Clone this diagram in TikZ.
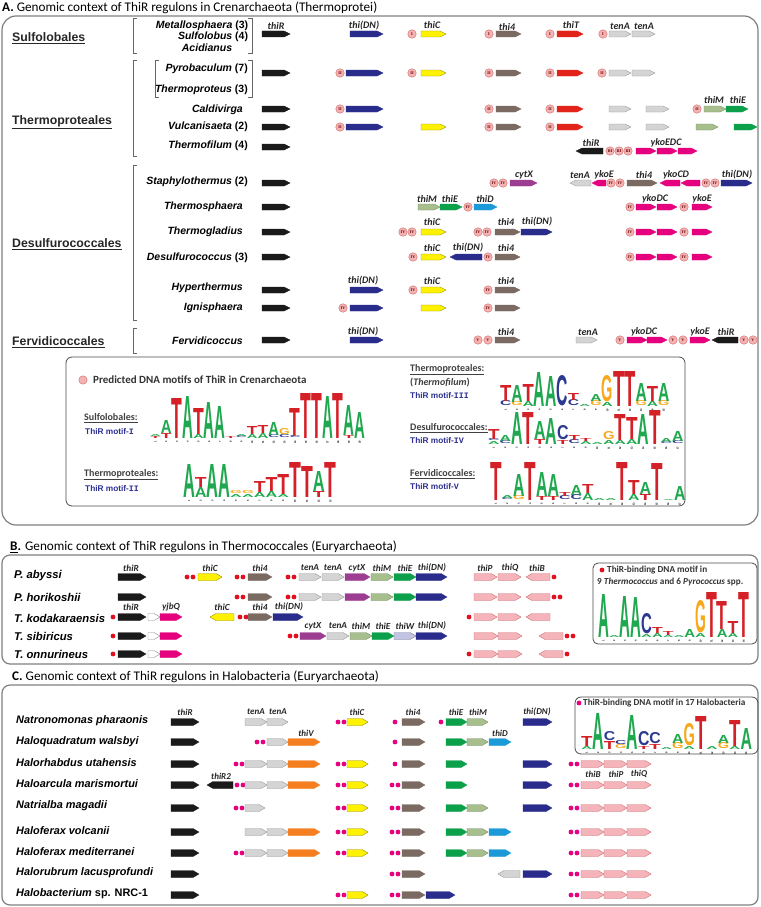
\documentclass[tikz,border=0pt]{standalone}
\usepackage{fontspec}
\usepackage{graphicx}
\setmainfont{Carlito}
\newfontfamily\arialf{Liberation Sans}
\newfontfamily\monof{Liberation Mono}
\newfontfamily\serf{Liberation Serif}
\definecolor{cBlack}{HTML}{1A1A1A}
\definecolor{cBlue}{HTML}{2A2C8C}
\definecolor{cYellow}{HTML}{FFF200}
\definecolor{cBrown}{HTML}{7A6A62}
\definecolor{cRed}{HTML}{E2231A}
\definecolor{cGray}{HTML}{D4D4D4}
\definecolor{cLGreen}{HTML}{A6BF8C}
\definecolor{cGreen}{HTML}{0DA04B}
\definecolor{cMag}{HTML}{E5007D}
\definecolor{cPurple}{HTML}{9D3D91}
\definecolor{cLBlue}{HTML}{1B9AD7}
\definecolor{cOrange}{HTML}{F47E20}
\definecolor{cPink}{HTML}{F5B4BA}
\definecolor{cLav}{HTML}{C3C3E3}
\definecolor{cCirc}{HTML}{F3B3B3}
\definecolor{cDotR}{HTML}{E0101E}
\definecolor{cDotM}{HTML}{E6007E}
\definecolor{lgAc}{HTML}{1FA84F}
\definecolor{lgTc}{HTML}{D42027}
\definecolor{lgCc}{HTML}{2B3990}
\definecolor{lgGc}{HTML}{F7A81B}
\definecolor{motifBlue}{HTML}{2E3192}
\newcommand\lgA{\textcolor{lgAc}{\arialf\bfseries A}}
\newcommand\lgT{\textcolor{lgTc}{\arialf\bfseries T}}
\newcommand\lgC{\textcolor{lgCc}{\arialf\bfseries C}}
\newcommand\lgG{\textcolor{lgGc}{\arialf\bfseries G}}
\def\gh{3}\def\gt{6}
\newcommand\gR[4]{\draw[#4] (#1,#3-\gh) -- ({#2-\gt},#3-\gh) -- (#2,#3) -- ({#2-\gt},#3+\gh) -- (#1,#3+\gh) -- cycle;}
\newcommand\gL[4]{\draw[#4] (#2,#3-\gh) -- ({#1+\gt},#3-\gh) -- (#1,#3) -- ({#1+\gt},#3+\gh) -- (#2,#3+\gh) -- cycle;}
\newcommand\glab[3]{\node[glab] at (#1,#2) {#3};}
\newcommand\mcirc[3]{\node[mc] at (#1,#2) {#3};}
\newcommand\dotr[2]{\fill[cDotR] (#1,#2) circle (2.4pt);}
\newcommand\dotm[2]{\fill[cDotM] (#1,#2) circle (2.4pt);}
\newcommand\dlogo[5]{%
  \foreach \cc/\LL/\bb/\hh in {#5} {
    \node[lgn] at ({#1+(\cc-1)*#3},{#2-\bb}) {\resizebox{#3pt}{\hh pt}{\csname lg\LL\endcsname}};
  }
  \foreach \ii in {1,...,#4} \node[lgnum] at ({#1+(\ii-0.5)*#3},{#2+4}) {\ii};
}
\begin{document}
\begin{tikzpicture}[x=1pt,y=-1pt,
  gk/.style={fill=cBlack,draw=cBlack,line width=0.3pt},
  gb/.style={fill=cBlue,draw=cBlue,line width=0.3pt},
  gy/.style={fill=cYellow,draw=black!40!cYellow,line width=0.4pt},
  gbr/.style={fill=cBrown,draw=cBrown,line width=0.3pt},
  gr/.style={fill=cRed,draw=cRed,line width=0.3pt},
  gg/.style={fill=cGray,draw=black!40,line width=0.4pt},
  glg/.style={fill=cLGreen,draw=black!25!cLGreen,line width=0.4pt},
  ggr/.style={fill=cGreen,draw=cGreen,line width=0.3pt},
  gm/.style={fill=cMag,draw=cMag,line width=0.3pt},
  gp/.style={fill=cPurple,draw=cPurple,line width=0.3pt},
  glb/.style={fill=cLBlue,draw=cLBlue,line width=0.3pt},
  go/.style={fill=cOrange,draw=cOrange,line width=0.3pt},
  gpk/.style={fill=cPink,draw=black!20!cPink!80!red,line width=0.4pt},
  glv/.style={fill=cLav,draw=black!35!cLav,line width=0.4pt},
  gw/.style={fill=white,draw=black!45,line width=0.4pt},
  glab/.style={font=\fontsize{10}{10}\selectfont\bfseries\itshape,text=black!85,inner sep=0pt},
  glabB/.style={font=\fontsize{9.3}{10}\selectfont\bfseries\itshape,text=black!85,inner sep=0pt},
  glabC/.style={font=\fontsize{9}{10}\selectfont\bfseries\itshape,text=black!85,inner sep=0pt},
  mc/.style={circle,fill=cCirc,draw=black!20!cCirc!70!red,line width=0.4pt,minimum size=8.5pt,inner sep=0pt,font=\serf\fontsize{4.2}{4}\selectfont\bfseries,text=black!60!red},
  lgn/.style={anchor=south west,inner sep=0pt,outer sep=0pt},
  lgnum/.style={font=\arialf\fontsize{2.6}{3}\selectfont\bfseries,rotate=90,inner sep=0pt},
  spA/.style={font=\arialf\bfseries\fontsize{10.5}{12}\selectfont,inner sep=0pt},
  spB/.style={font=\arialf\bfseries\itshape\fontsize{11.3}{13}\selectfont,inner sep=0pt,anchor=west},
  spC/.style={font=\arialf\bfseries\itshape\fontsize{10.9}{12}\selectfont,inner sep=0pt,anchor=west},
  ord/.style={font=\arialf\bfseries\fontsize{12.3}{14}\selectfont,text=black!85,inner sep=0pt,anchor=west},
  ttl/.style={font=\fontsize{13.2}{15}\selectfont,inner sep=0pt,anchor=west},
  brk/.style={draw=black!60,line width=0.6pt},
  obox/.style={draw=black!50,line width=1.2pt},
  mbox/.style={draw=black!70,line width=0.8pt},
  mlab/.style={font=\bfseries\fontsize{10}{11}\selectfont,text=black!75,inner sep=0pt,anchor=west},
  mname/.style={font=\arialf\bfseries\fontsize{8.3}{9}\selectfont,text=motifBlue,inner sep=0pt,anchor=west},
  mtitle/.style={font=\bfseries\fontsize{9.2}{10}\selectfont,text=black!80,inner sep=0pt,anchor=west}
]
\useasboundingbox (0,0) rectangle (760,907);
\fill[white] (0,0) rectangle (760,907);

%%%%%%%%%%%%%%%% Section A
\node[ttl] (tA) at (2,8) {\textbf{A.} Genomic context of ThiR regulons in Crenarchaeota (Thermoprotei)};
\draw[obox,rounded corners=14pt] (2,16) rectangle (758,525);

\node[ord] (oS) at (12,38) {\underline{Sulfolobales}};
\node[ord] (oT) at (12,122) {\underline{Thermoproteales}};
\node[ord] (oD) at (12,244) {\underline{Desulfurococcales}};
\node[ord] (oF) at (12,342) {\underline{Fervidicoccales}};

% brackets
\draw[brk] (137,18) -- (133,18) -- (133,53) -- (137,53);
\draw[brk] (248,18) -- (252,18) -- (252,53) -- (248,53);
\draw[brk] (137,60) -- (133,60) -- (133,156) -- (137,156);
\draw[brk] (159,60) -- (155,60) -- (155,97) -- (159,97);
\draw[brk] (248,60) -- (252,60) -- (252,97) -- (248,97);
\draw[brk] (137,165) -- (133,165) -- (133,320) -- (137,320);
\draw[brk] (137,328) -- (133,328) -- (133,353) -- (137,353);

% species
\node[spA] at (202,26) {{\itshape Metallosphaera} (3)};
\node[spA] at (213,37) {{\itshape Sulfolobus} (4)};
\node[spA] at (207,48) {{\itshape Acidianus}};
\node[spA,anchor=east] at (248,69) {{\itshape Pyrobaculum} (7)};
\node[spA,anchor=east] at (248,90) {{\itshape Thermoproteus} (3)};
\node[spA,anchor=east] at (243,110) {{\itshape Caldivirga}};
\node[spA,anchor=east] at (248,127) {{\itshape Vulcanisaeta} (2)};
\node[spA,anchor=east] at (248,146) {{\itshape Thermofilum} (4)};
\node[spA,anchor=east] at (248,182) {{\itshape Staphylothermus} (2)};
\node[spA,anchor=east] at (243,207) {{\itshape Thermosphaera}};
\node[spA,anchor=east] at (243,232) {{\itshape Thermogladius}};
\node[spA,anchor=east] at (248,258) {{\itshape Desulfurococcus} (3)};
\node[spA,anchor=east] at (243,288) {{\itshape Hyperthermus}};
\node[spA,anchor=east] at (243,308) {{\itshape Ignisphaera}};
\node[spA,anchor=east] at (243,341) {{\itshape Fervidicoccus}};

% thiR column
\foreach \yy in {34,73,109,127,147,183,207,232,257,290,308,340} {\gR{262}{290}{\yy}{gk}}
\glab{276}{26}{thiR}

% row 1
\gR{350}{383}{34}{gb} \glab{364}{26}{thi(DN)}
\mcirc{412}{34}{I} \gR{421}{446}{34}{gy} \glab{432}{25}{thiC}
\mcirc{489}{34}{I} \gR{496}{521}{34}{gbr} \glab{507}{27}{thi4}
\mcirc{550}{34}{I} \gR{557}{583}{34}{gr} \glab{571}{25}{thiT}
\mcirc{603}{34}{I} \gR{609}{631}{34}{gg} \gR{632}{655}{34}{gg} \glab{620}{26}{tenA} \glab{644}{26}{tenA}

% Pyrobaculum
\mcirc{340}{73}{II} \gR{346}{383}{73}{gb}
\mcirc{412}{73}{II} \gR{421}{446}{73}{gy}
\mcirc{489}{73}{II} \gR{496}{521}{73}{gbr}
\mcirc{550}{73}{II} \gR{557}{583}{73}{gr}
\mcirc{602}{73}{II} \gR{609}{631}{73}{gg} \gR{632}{655}{73}{gg}

% Caldivirga
\mcirc{340}{109}{II} \gR{346}{383}{109}{gb}
\mcirc{489}{109}{II} \gR{496}{521}{109}{gbr}
\mcirc{550}{109}{II} \gR{557}{583}{109}{gr}
\gR{609}{631}{109}{gg} \gR{646}{669}{109}{gg}
\mcirc{697}{109}{II} \gR{704}{726}{109}{glg} \gR{726}{748}{109}{ggr}
\glab{714}{100}{thiM} \glab{738}{100}{thiE}

% Vulcanisaeta
\mcirc{340}{127}{II} \gR{346}{383}{127}{gb}
\gR{421}{446}{127}{gy}
\mcirc{489}{127}{II} \gR{496}{521}{127}{gbr}
\mcirc{550}{127}{II} \gR{557}{583}{127}{gr}
\gR{609}{631}{127}{gg} \gR{646}{669}{127}{gg}
\gR{696}{718}{127}{glg} \gR{734}{757}{127}{ggr}

% Thermofilum
\gL{576}{603}{151}{gk} \glab{591}{143}{thiR}
\mcirc{610}{151}{III} \mcirc{619}{151}{III} \mcirc{628}{151}{III}
\gR{636}{656}{151}{gm} \gR{657}{677}{151}{gm} \gR{678}{697}{151}{gm}
\glab{666}{143}{ykoEDC}

% Staphylothermus
\mcirc{494}{183}{IV} \mcirc{503}{183}{IV} \gR{510}{537}{183}{gp} \glab{524}{175}{cytX}
\gL{570}{591}{183}{gg} \glab{580}{175}{tenA}
\gL{592}{606}{183}{gm} \glab{604}{175}{ykoE}
\mcirc{611}{183}{IV} \mcirc{620}{183}{IV}
\gR{627}{657}{183}{gbr} \glab{644}{175}{thi4}
\gL{660}{680}{183}{gm} \gL{681}{700}{183}{gm} \glab{676}{175}{ykoCD}
\mcirc{706}{183}{IV} \mcirc{715}{183}{IV}
\gR{721}{752}{183}{gb} \glab{737}{175}{thi(DN)}

% Thermosphaera
\gR{418}{440}{207}{glg} \gR{440}{462}{207}{ggr} \mcirc{468}{207}{IV} \gR{474}{497}{207}{glb}
\glab{427}{199}{thiM} \glab{450}{199}{thiE} \glab{485}{199}{thiD}
\mcirc{630}{207}{IV} \gR{636}{656}{207}{gm} \gR{657}{677}{207}{gm}
\mcirc{684}{207}{IV} \gR{692}{712}{207}{gm}
\glab{655}{199}{ykoDC} \glab{702}{199}{ykoE}

% Thermogladius
\mcirc{403}{232}{IV} \mcirc{412}{232}{IV} \gR{421}{446}{232}{gy} \glab{432}{222}{thiC}
\mcirc{478}{232}{IV} \mcirc{487}{232}{IV} \gR{495}{520}{232}{gbr} \glab{506}{222}{thi4}
\gR{521}{552}{232}{gb} \glab{537}{222}{thi(DN)}
\mcirc{630}{232}{IV} \gR{636}{656}{232}{gm} \gR{657}{677}{232}{gm}
\mcirc{684}{232}{IV} \gR{692}{712}{232}{gm}

% Desulfurococcus
\mcirc{413}{257}{IV} \gR{421}{446}{257}{gy} \glab{432}{248}{thiC}
\gL{450}{482}{257}{gb} \glab{468}{248}{thi(DN)}
\mcirc{488}{257}{IV} \gR{495}{520}{257}{gbr} \glab{506}{248}{thi4}
\mcirc{630}{257}{IV} \gR{636}{656}{257}{gm} \gR{657}{677}{257}{gm}
\mcirc{684}{257}{IV} \gR{692}{712}{257}{gm}

% Hyperthermus
\gR{350}{383}{290}{gb} \glab{363}{281}{thi(DN)}
\mcirc{413}{290}{IV} \gR{421}{446}{290}{gy} \glab{432}{281}{thiC}
\mcirc{488}{290}{IV} \gR{495}{520}{290}{gbr} \glab{506}{281}{thi4}

% Ignisphaera
\mcirc{343}{308}{IV} \gR{350}{383}{308}{gb}
\gR{421}{446}{308}{gy}
\mcirc{488}{308}{IV} \gR{495}{520}{308}{gbr}

% Fervidicoccus
\gR{350}{383}{340}{gb} \glab{363}{332}{thi(DN)}
\mcirc{478}{340}{V} \mcirc{488}{340}{V} \gR{495}{520}{340}{gbr} \glab{506}{332}{thi4}
\gR{576}{597}{340}{gg} \glab{588}{332}{tenA}
\mcirc{620}{340}{V} \gR{627}{647}{340}{gm} \gR{647}{667}{340}{gm} \glab{644}{332}{ykoDC}
\mcirc{673}{340}{V} \mcirc{683}{340}{V} \gR{690}{710}{340}{gm} \glab{700}{332}{ykoE}
\gL{712}{738}{340}{gk} \glab{726}{332}{thiR}
\mcirc{744}{340}{V} \mcirc{753}{340}{V}

% motif box A
\draw[mbox,rounded corners=6pt] (66,357) rectangle (685,506);
\fill[cCirc,draw=black!20!cCirc!70!red,line width=0.4pt] (83,380) circle (4.2pt);
\node[font=\bfseries\fontsize{11}{12}\selectfont,text=black!80,inner sep=0pt,anchor=west] (mt) at (93,380) {Predicted DNA motifs of ThiR in Crenarchaeota};

\node[mlab] at (84,418) {\underline{Sulfolobales:}};
\node[mname] at (85,432) {ThiR motif-{\monof I}};
\node[mlab] at (84,475) {\underline{Thermoproteales:}};
\node[mname] at (85,489) {ThiR motif-{\monof II}};
\node[mlab] at (410,370) {\underline{Thermoproteales:}};
\node[mlab] at (410,383) {(\textit{Thermofilum})};
\node[mname] at (410,396) {ThiR motif-{\monof III}};
\node[mlab] at (410,428) {\underline{Desulfurococcales:}};
\node[mname] at (410,441) {ThiR motif-{\monof IV}};
\node[mlab] at (410,474) {\underline{Fervidicoccales:}};
\node[mname] at (410,487) {ThiR motif-{\monof V}};

\dlogo{150}{438}{10.75}{20}{1/T/0/2, 1/A/2/2, 2/T/0/5, 2/A/5/13, 3/T/0/40, 4/A/0/42, 5/A/0/4, 5/T/4/26, 6/A/0/36, 7/A/0/32, 8/T/0/2, 9/C/0/2, 9/A/2/2, 10/A/0/4, 10/T/4/8, 11/A/0/5, 11/T/5/8, 12/C/0/3, 12/A/3/13, 13/C/0/3, 13/G/3/6, 14/C/0/2, 14/T/2/28, 15/T/0/45, 16/T/0/45, 17/A/0/42, 18/T/0/45, 19/T/0/3, 19/A/3/30, 20/A/0/26}
\dlogo{183}{497}{11.8}{13}{1/A/0/33, 2/A/0/10, 2/T/10/10, 3/A/0/33, 4/A/0/33, 5/A/0/3, 5/G/3/3, 6/A/0/3, 6/G/3/3, 7/A/0/5, 7/T/5/11, 8/A/0/6, 8/T/6/14, 9/A/0/3, 9/T/3/20, 10/T/0/35, 11/T/0/31, 12/T/0/6, 12/A/6/20, 13/T/0/35}
\dlogo{500}{406}{11.3}{15}{1/C/0/5, 1/T/5/16, 2/G/0/4, 2/A/4/17, 3/A/0/5, 3/T/5/17, 4/A/0/34, 5/A/0/30, 6/C/0/30, 7/C/0/6, 7/T/6/7, 8/A/0/2, 9/G/0/5, 9/A/5/7, 10/A/0/4, 10/G/4/26, 11/T/0/35, 12/T/0/35, 13/G/0/5, 13/A/5/18, 14/A/0/5, 14/T/5/15, 15/G/0/5, 15/A/5/18}
\dlogo{488}{444}{11.5}{17}{1/A/0/3, 1/C/3/2, 1/T/5/10, 2/C/0/3, 2/A/3/6, 3/A/0/32, 4/T/0/32, 5/T/0/5, 5/A/5/18, 6/A/0/26, 7/T/0/4, 7/C/4/14, 8/C/0/4, 8/T/4/5, 9/A/0/3, 9/T/3/3, 10/A/0/2, 11/A/0/4, 11/G/4/8, 12/A/0/4, 12/T/4/26, 13/A/0/5, 13/T/5/22, 14/A/0/30, 15/T/0/34, 16/C/0/2, 16/A/2/4, 17/C/0/3, 17/A/3/10}
\dlogo{490}{500}{11.5}{17}{1/T/0/38, 2/C/0/2, 2/A/2/3, 3/G/0/4, 3/A/4/22, 4/T/0/38, 5/T/0/4, 5/A/4/24, 6/T/0/4, 6/A/4/22, 7/C/0/4, 7/T/4/4, 8/C/0/5, 8/A/5/10, 9/A/0/7, 9/T/7/9, 10/A/0/2, 11/A/0/2, 12/T/0/38, 13/A/0/6, 13/T/6/14, 14/T/0/6, 14/A/6/12, 15/T/0/37, 16/A/0/1, 17/A/0/14}

%%%%%%%%%%%%%%%% Section B
\def\gh{3.5}
\node[ttl] (tB) at (10,547) {\textbf{\underline{B}.} Genomic context of ThiR regulons in Thermococcales (Euryarchaeota)};
\draw[obox,rounded corners=8pt] (2,555) rectangle (758,664);
\node[spB] at (14,576) {P. abyssi};
\node[spB] at (14,597) {P. horikoshii};
\node[spB] at (14,618) {T. kodakaraensis};
\node[spB] at (14,636) {T. sibiricus};
\node[spB] at (14,654) {T. onnurineus};

% abyssi
\gR{118}{146}{577}{gk}
\dotr{187}{577}\dotr{193}{577} \gR{198}{222}{577}{gy}
\dotr{237}{577}\dotr{243}{577} \gR{248}{272}{577}{gbr}
\dotr{288}{577}\dotr{294}{577} \gR{299}{321}{577}{gg} \gR{322}{344}{577}{gg}
\gR{345}{370}{577}{gp} \gR{371}{393}{577}{glg} \gR{394}{416}{577}{ggr} \gR{416}{447}{577}{gb}
\gR{474}{497}{577}{gpk} \gR{498}{521}{577}{gpk} \gL{526}{550}{577}{gpk} \dotr{554}{577}
\node[glabB] at (131,568) {thiR}; \node[glabB] at (210,568) {thiC}; \node[glabB] at (260,568) {thi4};
\node[glabB] at (310,568) {tenA}; \node[glabB] at (333,568) {tenA}; \node[glabB] at (357,568) {cytX};
\node[glabB] at (382,568) {thiM}; \node[glabB] at (405,568) {thiE}; \node[glabB] at (432,568) {thi(DN)};
\node[glabB] at (485,568) {thiP}; \node[glabB] at (510,568) {thiQ}; \node[glabB] at (537,568) {thiB};
% horikoshii
\gR{118}{146}{597}{gk}
\dotr{237}{597}\dotr{243}{597} \gR{248}{272}{597}{gbr}
\dotr{288}{597}\dotr{294}{597} \gR{299}{321}{597}{gg} \gR{322}{344}{597}{gg}
\gR{345}{370}{597}{gp} \gR{371}{393}{597}{glg} \gR{394}{416}{597}{ggr} \gR{416}{447}{597}{gb}
\gR{474}{497}{597}{gpk} \gR{498}{521}{597}{gpk} \gL{526}{550}{597}{gpk} \dotr{554}{597}\dotr{560}{597}
% kodakaraensis
\dotr{113}{617} \gR{118}{146}{617}{gk} \gR{148}{160}{617}{gw} \gR{160}{182}{617}{gm}
\gL{210}{234}{617}{gy} \dotr{240}{617}\dotr{246}{617} \gR{248}{272}{617}{gbr} \gR{273}{303}{617}{gb}
\dotr{469}{617} \gR{474}{497}{617}{gpk} \gR{498}{521}{617}{gpk} \gL{526}{550}{617}{gpk}
\node[glabB] at (131,607) {thiR}; \node[glabB] at (171,607) {yjbQ}; \node[glabB] at (222,607) {thiC};
\node[glabB] at (260,607) {thi4}; \node[glabB] at (289,607) {thi(DN)};
% sibiricus
\dotr{113}{636} \gR{118}{146}{636}{gk} \gR{148}{160}{636}{gw} \gR{160}{182}{636}{gm}
\dotr{290}{636}\dotr{296}{636} \gR{300}{326}{636}{gp} \gR{327}{349}{636}{gg} \gR{350}{372}{636}{glg}
\gR{372}{394}{636}{ggr} \gR{394}{416}{636}{glv} \gR{416}{447}{636}{gb}
\gR{474}{498}{636}{gpk} \gR{498}{522}{636}{gpk} \gL{539}{563}{636}{gpk} \dotr{567}{636}\dotr{573}{636}
\node[glabB] at (313,626) {cytX}; \node[glabB] at (338,626) {tenA}; \node[glabB] at (361,626) {thiM};
\node[glabB] at (383,626) {thiE}; \node[glabB] at (405,626) {thiW}; \node[glabB] at (432,626) {thi(DN)};
% onnurineus
\dotr{113}{654} \gR{118}{146}{654}{gk} \gR{148}{160}{654}{gw} \gR{160}{182}{654}{gm}
\dotr{469}{654} \gR{474}{498}{654}{gpk} \gR{498}{522}{654}{gpk} \gL{539}{563}{654}{gpk} \dotr{567}{654}

% motif box B
\draw[mbox,rounded corners=5pt] (593,563) rectangle (757,644);
\dotr{602}{570}
\node[mtitle] at (607,570) {ThiR-binding DNA motif in};
\node[mtitle] at (597,582) {9 \textit{Thermococcus} and 6 \textit{Pyrococcus} spp.};
\dlogo{598}{637}{10.8}{14}{1/A/0/43, 2/A/0/2, 3/A/0/41, 4/A/0/40, 5/A/0/3, 5/C/3/20, 6/A/0/4, 6/T/4/6, 7/A/0/2, 7/T/2/4, 8/A/0/2, 9/A/0/8, 10/A/0/4, 10/G/4/32, 11/T/0/45, 12/A/0/8, 12/T/8/28, 13/A/0/4, 13/T/4/12, 14/T/0/45}

%%%%%%%%%%%%%%%% Section C
\node[ttl] (tC) at (12,677) {\textbf{C.} Genomic context of ThiR regulons in Halobacteria (Euryarchaeota)};
\draw[obox,rounded corners=8pt] (2,685) rectangle (758,905);
\node[spC] at (16,721) {Natronomonas pharaonis};
\node[spC] at (16,742) {Haloquadratum walsbyi};
\node[spC] at (16,763) {Halorhabdus utahensis};
\node[spC] at (16,784) {Haloarcula marismortui};
\node[spC] at (16,806) {Natrialba magadii};
\node[spC] at (16,831) {Haloferax volcanii};
\node[spC] at (16,852) {Haloferax mediterranei};
\node[spC] at (16,873) {Halorubrum lacusprofundi};
\node[spC] at (16,894) {Halobacterium {\upshape sp. NRC-1}};

\foreach \yy in {722,742,764,785,808,832,853,874,895} {\gR{171}{199}{\yy}{gk}}
\node[glabC] at (185,712) {thiR};
% row 1
\gR{245}{267}{722}{gg} \gR{267}{288}{722}{gg}
\node[glabC] at (256,712) {tenA}; \node[glabC] at (278,712) {tenA};
\dotm{338}{722}\dotm{344}{722} \gR{347}{368}{722}{gy} \node[glabC] at (357,712) {thiC};
\dotm{395}{722} \gR{402}{425}{722}{gbr} \node[glabC] at (413,712) {thi4};
\dotm{441}{722} \gR{446}{467}{722}{ggr} \gR{467}{488}{722}{glg}
\node[glabC] at (456,712) {thiE}; \node[glabC] at (478,712) {thiM};
\gR{523}{552}{722}{gb} \node[glabC] at (537,712) {thi(DN)};
% row 2
\dotm{257}{742}\dotm{263}{742} \gR{267}{288}{742}{gg} \gR{288}{320}{742}{go} \node[glabC] at (306,733) {thiV};
\dotm{395}{742} \gR{402}{425}{742}{gbr}
\gR{446}{467}{742}{ggr} \gR{467}{488}{742}{glg} \gR{489}{511}{742}{glb} \node[glabC] at (500,733) {thiD};
% row 3
\dotm{236}{764}\dotm{242}{764} \gR{245}{267}{764}{gg} \gR{267}{288}{764}{gg} \gR{288}{320}{764}{go}
\dotm{338}{764}\dotm{344}{764} \gR{347}{368}{764}{gy}
\dotm{395}{764} \gR{402}{425}{764}{gbr}
\gR{446}{467}{764}{ggr}
\gR{523}{552}{764}{gb}
\dotm{571}{764}\dotm{577}{764} \gR{581}{604}{764}{gpk} \gR{604}{627}{764}{gpk} \gR{627}{651}{764}{gpk}
% row 4
\gL{207}{233}{785}{gk} \node[glabC] at (221,776) {thiR2};
\dotm{237}{785}\dotm{243}{785} \gR{245}{267}{785}{gg} \gR{267}{288}{785}{gg} \gR{288}{320}{785}{go}
\dotm{338}{785}\dotm{344}{785} \gR{347}{368}{785}{gy}
\dotm{392}{785}\dotm{398}{785} \gR{402}{425}{785}{gbr}
\gR{446}{467}{785}{ggr}
\gR{523}{552}{785}{gb}
\dotm{571}{785}\dotm{577}{785} \gR{581}{604}{785}{gpk} \gR{604}{627}{785}{gpk} \gR{627}{651}{785}{gpk}
\node[glabC] at (593,774) {thiB}; \node[glabC] at (616,774) {thiP}; \node[glabC] at (639,774) {thiQ};
% row 5
\dotm{236}{808}\dotm{242}{808} \gR{245}{265}{808}{gg}
\dotm{338}{808}\dotm{344}{808} \gR{347}{368}{808}{gy}
\dotm{392}{808}\dotm{398}{808} \gR{402}{425}{808}{gbr}
\gR{446}{467}{808}{ggr} \gR{467}{488}{808}{glg}
\gR{523}{552}{808}{gb}
\dotm{571}{808}\dotm{577}{808} \gR{581}{604}{808}{gpk} \gR{604}{627}{808}{gpk} \gR{627}{651}{808}{gpk}
% row 6
\gR{245}{267}{832}{gg} \gR{267}{288}{832}{gg} \gR{288}{320}{832}{go}
\dotm{338}{832}\dotm{344}{832} \gR{347}{368}{832}{gy}
\dotm{392}{832}\dotm{398}{832} \gR{402}{425}{832}{gbr}
\gR{446}{467}{832}{ggr} \gR{467}{488}{832}{glg} \gR{489}{511}{832}{glb}
\dotm{571}{832}\dotm{577}{832} \gR{581}{604}{832}{gpk} \gR{604}{627}{832}{gpk} \gR{627}{651}{832}{gpk}
% row 7
\dotm{236}{853}\dotm{242}{853} \gR{245}{267}{853}{gg} \gR{267}{288}{853}{gg} \gR{288}{320}{853}{go}
\dotm{338}{853}\dotm{344}{853} \gR{347}{368}{853}{gy}
\dotm{392}{853}\dotm{398}{853} \gR{402}{425}{853}{gbr}
\gR{446}{467}{853}{ggr} \gR{467}{488}{853}{glg} \gR{489}{511}{853}{glb}
\dotm{571}{853}\dotm{577}{853} \gR{581}{604}{853}{gpk} \gR{604}{627}{853}{gpk} \gR{627}{651}{853}{gpk}
% row 8
\dotm{392}{874}\dotm{398}{874} \gR{402}{425}{874}{gbr}
\gL{498}{520}{874}{gg} \gR{523}{552}{874}{gb}
\dotm{571}{874}\dotm{577}{874} \gR{581}{604}{874}{gpk} \gR{604}{627}{874}{gpk} \gR{627}{651}{874}{gpk}
% row 9
\dotm{338}{895}\dotm{344}{895} \gR{347}{368}{895}{gy}
\dotm{392}{895}\dotm{398}{895} \gR{402}{425}{895}{gbr} \gR{426}{455}{895}{gb}
\dotm{571}{895}\dotm{577}{895} \gR{581}{604}{895}{gpk} \gR{604}{627}{895}{gpk} \gR{627}{651}{895}{gpk}

% motif box C
\draw[mbox,rounded corners=6pt] (575,697) rectangle (758,754);
\dotm{579}{703}
\node[mtitle] at (583,703) {ThiR-binding DNA motif in 17 Halobacteria};
\dlogo{581}{749}{11.4}{15}{1/A/0/3, 1/T/3/10, 2/A/0/36, 3/T/0/8, 3/C/8/9, 4/G/0/4, 4/C/4/4, 5/A/0/34, 6/T/0/3, 6/C/3/14, 7/T/0/5, 7/C/5/11, 8/A/0/2, 9/G/0/6, 9/A/6/9, 10/A/0/3, 10/G/3/22, 11/T/0/33, 12/A/0/3, 13/G/0/6, 13/A/6/8, 14/A/0/3, 14/T/3/26, 15/A/0/21}
\end{tikzpicture}
\end{document}
